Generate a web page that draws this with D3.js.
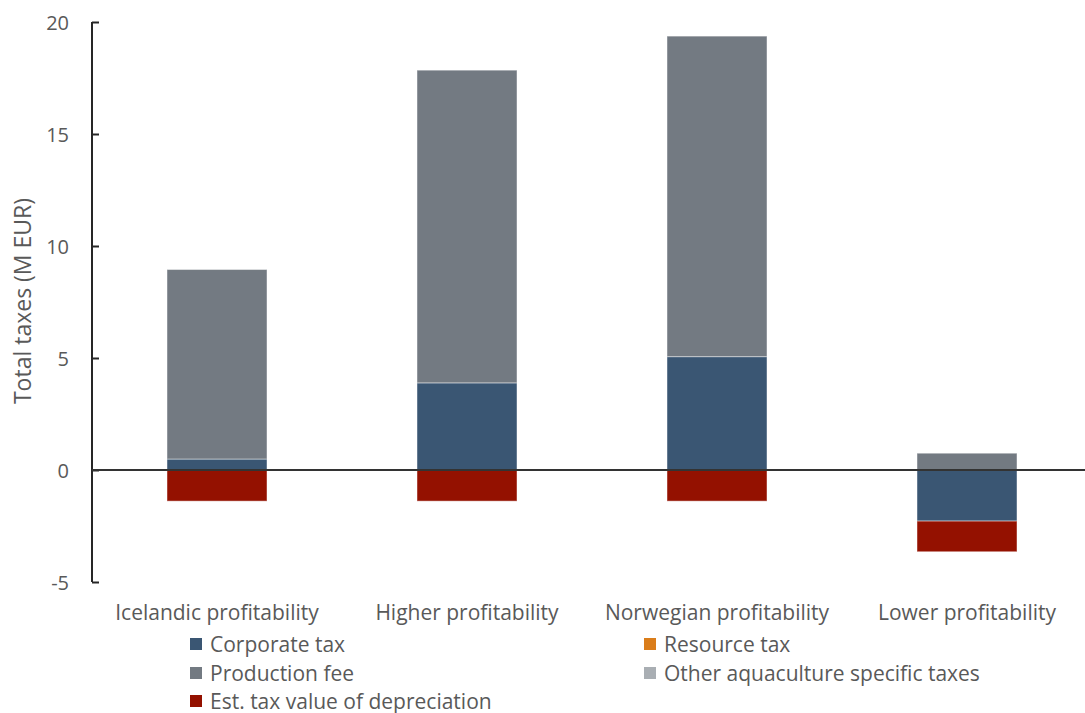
<!DOCTYPE html>
<html>
<head>
<meta charset="utf-8">
<script src="https://cdn.jsdelivr.net/npm/d3@7"></script>
<style>
  html, body { margin: 0; padding: 0; background: #fff; }
  svg text { font-family: "Open Sans", Lato, sans-serif; fill: #595959; }
</style>
</head>
<body>
<svg id="chart" width="1085" height="713"></svg>
<script>
// Scenario categories along the x axis
const categories = ["Icelandic profitability", "Higher profitability", "Norwegian profitability", "Lower profitability"];

// Series values (M EUR) per scenario
const corporateTax   = [0.49, 3.89, 5.06, -2.28];
const resourceTax    = [0, 0, 0, 0];
const productionFee  = [8.46, 13.96, 14.31, 0.75];
const otherTaxes     = [0, 0, 0, 0];
const depreciation   = [-1.39, -1.39, -1.39, -1.37];

const seriesNames  = ["Corporate tax", "Resource tax", "Production fee", "Other aquaculture specific taxes", "Est. tax value of depreciation"];
const seriesColors = ["#3a5673", "#da7d1a", "#737a82", "#a9aeb3", "#941100"];
const yTicks = [-5, 0, 5, 10, 15, 20];

const rows = categories.map((c, i) => ({
  category: c,
  "Corporate tax": corporateTax[i],
  "Resource tax": resourceTax[i],
  "Production fee": productionFee[i],
  "Other aquaculture specific taxes": otherTaxes[i],
  "Est. tax value of depreciation": depreciation[i]
}));

const svg = d3.select("#chart");
const margin = { left: 92, top: 22, bottom: 582 };

const x = d3.scaleBand()
  .domain(categories)
  .range([margin.left, margin.left + 1000])
  .paddingInner(0.6)
  .paddingOuter(0.3);

const y = d3.scaleLinear().domain([-5, 20]).range([margin.bottom, margin.top]);

const stacked = d3.stack()
  .keys(seriesNames)
  .offset(d3.stackOffsetDiverging)(rows);

// Bars
svg.append("g")
  .selectAll("g")
  .data(stacked)
  .join("g")
  .attr("fill", (d, i) => seriesColors[i])
  .selectAll("rect")
  .data(d => d.filter(p => p[1] - p[0] !== 0))
  .join("rect")
  .attr("x", d => x(d.data.category))
  .attr("width", x.bandwidth())
  .attr("y", d => y(Math.max(d[0], d[1])))
  .attr("height", d => Math.abs(y(d[0]) - y(d[1])))
  .attr("stroke", "#ffffff")
  .attr("stroke-opacity", 0.45)
  .attr("stroke-width", 1);

// Y axis with inward ticks
const yAxis = d3.axisLeft(y).tickValues(yTicks).tickFormat(d => String(d));
const gy = svg.append("g")
  .attr("transform", `translate(${margin.left},0)`)
  .call(yAxis);
gy.select(".domain").attr("stroke", "#262626").attr("stroke-width", 2)
  .attr("d", `M0,${y(20)}V${y(-5)}`);
gy.selectAll(".tick line").attr("stroke", "#262626").attr("stroke-width", 2)
  .attr("x1", 0).attr("x2", 7);
gy.selectAll(".tick text")
  .attr("x", -23)
  .attr("dy", "0.35em")
  .style("font-size", "20px")
  .style("fill", "#595959");

// Zero baseline
svg.append("line")
  .attr("x1", margin.left).attr("x2", 1085)
  .attr("y1", y(0)).attr("y2", y(0))
  .attr("stroke", "#333333").attr("stroke-width", 2);

// Y axis title
svg.append("text")
  .attr("transform", `translate(31,301) rotate(-90)`)
  .attr("text-anchor", "middle")
  .style("font-size", "23px")
  .text("Total taxes (M EUR)");

// Category labels
svg.append("g")
  .selectAll("text")
  .data(categories)
  .join("text")
  .attr("x", d => x(d) + x.bandwidth() / 2)
  .attr("y", 620)
  .attr("text-anchor", "middle")
  .style("font-size", "21px")
  .text(d => d);

// Legend (two columns)
const legendPos = [[190, 644], [644, 644], [190, 673], [644, 673], [190, 701]];
const legend = svg.append("g")
  .selectAll("g")
  .data(seriesNames)
  .join("g")
  .attr("transform", (d, i) => `translate(${legendPos[i][0]},${legendPos[i][1]})`);
legend.append("rect")
  .attr("x", 0).attr("y", -6)
  .attr("width", 12).attr("height", 12)
  .attr("fill", (d, i) => seriesColors[i]);
legend.append("text")
  .attr("x", 20).attr("y", 7.5)
  .style("font-size", "21px")
  .text(d => d);
</script>
</body>
</html>
